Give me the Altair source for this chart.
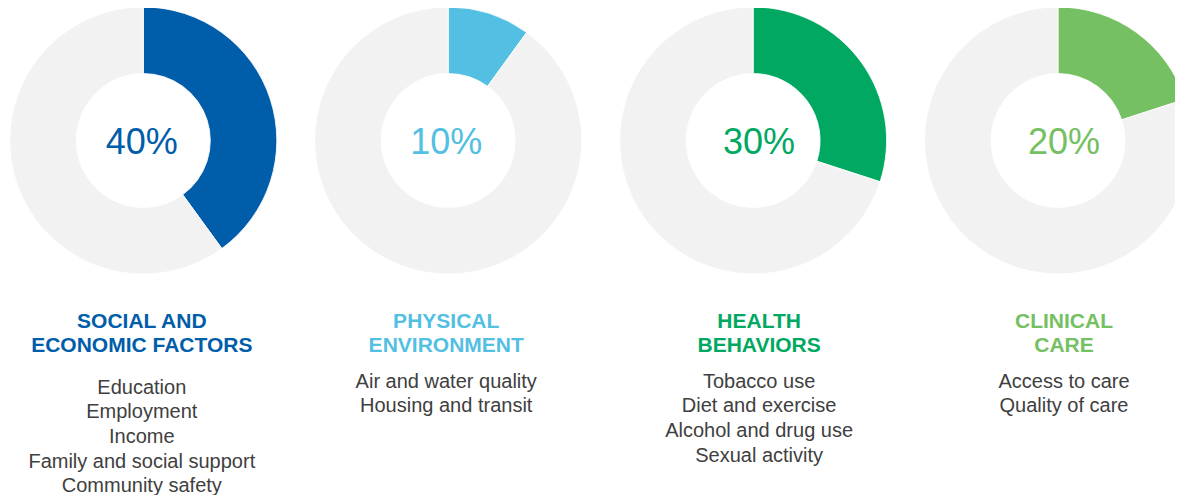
import altair as alt
import pandas as pd

# ---- data ----
titles = ["SOCIAL AND\nECONOMIC FACTORS", "PHYSICAL\nENVIRONMENT", "HEALTH\nBEHAVIORS", "CLINICAL\nCARE"]
shares = [40, 10, 30, 20]
items = [
    ["Education", "Employment", "Income", "Family and social support", "Community safety"],
    ["Air and water quality", "Housing and transit"],
    ["Tobacco use", "Diet and exercise", "Alcohol and drug use", "Sexual activity"],
    ["Access to care", "Quality of care"],
]

# ---- styles ----
accent = ["#005DA9", "#53BFE2", "#00A862", "#75C062"]
rest_color = "#F2F2F2"
text_gray = "#404040"
FONT = "Liberation Sans"
text_dx = [-1.5, -2, 6, 6]      # small horizontal nudges of text blocks
item_dy = [6, 0, 0, 0]          # first panel's list sits a bit lower

keys = [f"k{i}" for i in range(len(shares))]
arc_rows = []
for i, s in enumerate(shares):
    arc_rows.append({"panel": i, "key": keys[i], "start": 0, "end": s})
    arc_rows.append({"panel": i, "key": "rest", "start": s, "end": 100})
arcs = pd.DataFrame(arc_rows)
heads = pd.DataFrame({
    "panel": list(range(len(shares))),
    "key": keys,
    "pct": [f"{s}%" for s in shares],
    "title": titles,
})
item_df = pd.DataFrame([
    {"panel": i, "line": j, "label": t}
    for i, lst in enumerate(items) for j, t in enumerate(lst)
])

W, H = 1167, 487
X = alt.X("panel:Q", scale=alt.Scale(domain=[-0.4438, 3.3837], nice=False, zero=False),
          axis=None, stack=None)
color = alt.Color("key:N", scale=alt.Scale(domain=keys + ["rest"], range=accent + [rest_color]), legend=None)

donuts = alt.Chart(arcs).mark_arc(
    radius=133.5, radius2=67, stroke="white", strokeWidth=0.8, clip=True
).encode(
    x=X,
    y=alt.value(132.5),
    theta=alt.Theta("start:Q", scale=alt.Scale(domain=[0, 100], nice=False, zero=True), stack=None),
    theta2="end:Q",
    color=color,
)

layers = [donuts]
Yline = alt.Y("line:Q", scale=alt.Scale(domain=[0, 1], range=[373.5, 398.2]), axis=None, stack=None)
for i in range(len(shares)):
    hsel = alt.Chart(heads).transform_filter(alt.datum.panel == i)
    layers.append(
        hsel.mark_text(font=FONT, fontSize=36, baseline="middle", dx=text_dx[i]).encode(
            x=X, y=alt.value(134.6), text="pct:N", color=color)
    )
    layers.append(
        hsel.mark_text(font=FONT, fontSize=21, fontWeight="bold", baseline="middle",
                       lineBreak="\n", lineHeight=24.5, dx=text_dx[i]).encode(
            x=X, y=alt.value(313.9), text="title:N", color=color)
    )
    layers.append(
        alt.Chart(item_df).transform_filter(alt.datum.panel == i).mark_text(
            font=FONT, fontSize=20, baseline="middle", color=text_gray,
            dx=text_dx[i], dy=item_dy[i]).encode(
            x=X, y=Yline, text="label:N")
    )

chart = alt.layer(*layers).properties(
    width=W, height=H,
    autosize=alt.AutoSizeParams(type="none"),
    padding=0,
).configure_view(stroke=None)

chart.save("out.html", embed_options={"renderer": "svg", "actions": False})
